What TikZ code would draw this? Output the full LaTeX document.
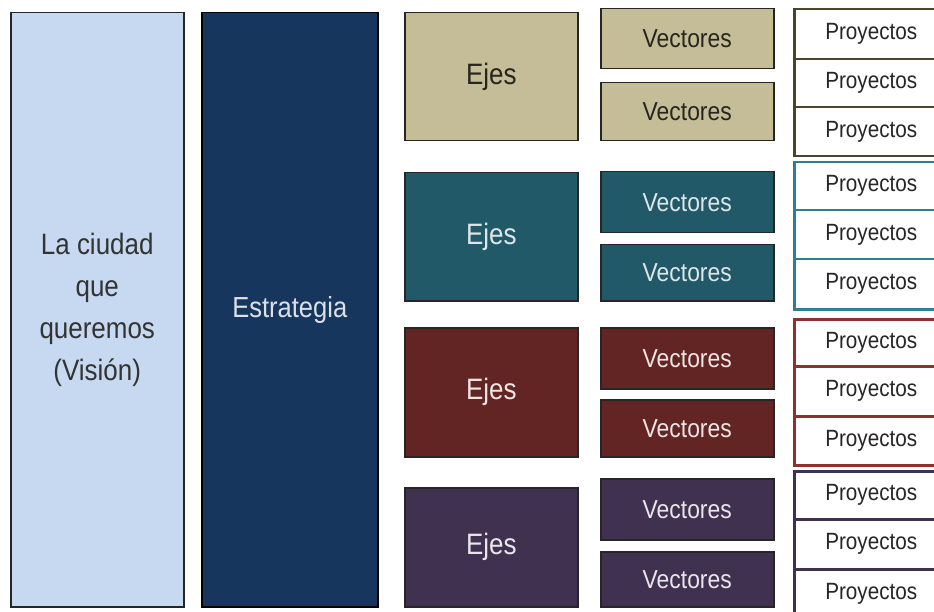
\documentclass[tikz,border=0pt]{standalone}
\usepackage{fontspec}
\setmainfont{Liberation Sans}[FakeStretch=0.88]
\definecolor{visblue}{HTML}{C6D9F1}
\definecolor{navy}{HTML}{17365D}
\definecolor{tanc}{HTML}{C4BD97}
\definecolor{tealc}{HTML}{215968}
\definecolor{redc}{HTML}{632523}
\definecolor{purplec}{HTML}{403151}
\definecolor{gone}{HTML}{4A4529}
\definecolor{gtwo}{HTML}{2F7F93}
\definecolor{gthree}{HTML}{8E302E}
\definecolor{gfour}{HTML}{403151}
\begin{document}
\begin{tikzpicture}[x=1pt,y=-1pt,
  base/.style={draw=black!85, line width=1.5pt, inner sep=0pt, anchor=north west, align=center},
  bigtxt/.style={font=\fontsize{29.5}{42}\selectfont},
  ejes/.style={base, minimum width=173pt, bigtxt},
  vect/.style={base, minimum width=173pt, font=\fontsize{26}{30}\selectfont},
  proj/.style={line width=2.5pt, inner sep=0pt, anchor=north west, fill=white, text=black!85, minimum width=154pt, font=\fontsize{23.5}{28}\selectfont},
  tanbox/.style={fill=tanc, text={black!80!tanc}},
  tealbox/.style={fill=tealc, text={white!85!tealc}},
  redbox/.style={fill=redc, text={white!88!redc}},
  purbox/.style={fill=purplec, text={white!88!purplec}}
]
\useasboundingbox (0,0) rectangle (934,612);
\clip (0,0) rectangle (934,612);
\fill[white] (0,0) rectangle (934,612);

\node[base, fill=visblue, text=black!80, minimum width=173pt, minimum height=594pt, bigtxt] (vision) at (10,12) {La ciudad\\que\\queremos\\(Visión)};
\node[base, draw=black, fill=navy, text={white!85!navy}, minimum width=176pt, minimum height=594pt, font=\fontsize{29}{34}\selectfont] (estr) at (201,12) {Estrategia};

% Ejes
\node[ejes, tanbox, minimum height=128pt] (e1) at (404,12) {Ejes};
\node[ejes, tealbox, minimum height=128pt] (e2) at (404,172) {Ejes};
\node[ejes, redbox, minimum height=129pt] (e3) at (404,327) {Ejes};
\node[ejes, purbox, minimum height=119pt] (e4) at (404,487) {Ejes};

% Vectores
\node[vect, tanbox, minimum height=60pt] (v1) at (600,8) {Vectores};
\node[vect, tanbox, minimum height=58pt] (v2) at (600,82) {Vectores};
\node[vect, tealbox, minimum height=61pt] (v3) at (600,171) {Vectores};
\node[vect, tealbox, minimum height=56pt] (v4) at (600,244) {Vectores};
\node[vect, redbox, minimum height=61pt] (v5) at (600,327) {Vectores};
\node[vect, redbox, minimum height=57pt] (v6) at (600,399) {Vectores};
\node[vect, purbox, minimum height=61pt] (v7) at (600,478) {Vectores};
\node[vect, purbox, minimum height=55pt] (v8) at (600,551) {Vectores};

% Proyectos
\node[proj, draw=gone, minimum height=50pt] (p1) at (793,8) {Proyectos};
\node[proj, draw=gone, minimum height=48pt] (p2) at (793,58) {Proyectos};
\node[proj, draw=gone, minimum height=49pt] (p3) at (793,106) {Proyectos};
\node[proj, draw=gtwo, minimum height=48pt] (p4) at (793,161) {Proyectos};
\node[proj, draw=gtwo, minimum height=49pt] (p5) at (793,209) {Proyectos};
\node[proj, draw=gtwo, minimum height=50pt] (p6) at (793,258) {Proyectos};
\node[proj, draw=gthree, minimum height=47pt] (p7) at (793,318) {Proyectos};
\node[proj, draw=gthree, minimum height=50pt] (p8) at (793,365) {Proyectos};
\node[proj, draw=gthree, minimum height=49pt] (p9) at (793,415) {Proyectos};
\node[proj, draw=gfour, minimum height=48pt] (p10) at (793,470) {Proyectos};
\node[proj, draw=gfour, minimum height=50pt] (p11) at (793,518) {Proyectos};
\node[proj, draw=gfour, minimum height=50pt] (p12) at (793,568) {Proyectos};
\end{tikzpicture}
\end{document}
